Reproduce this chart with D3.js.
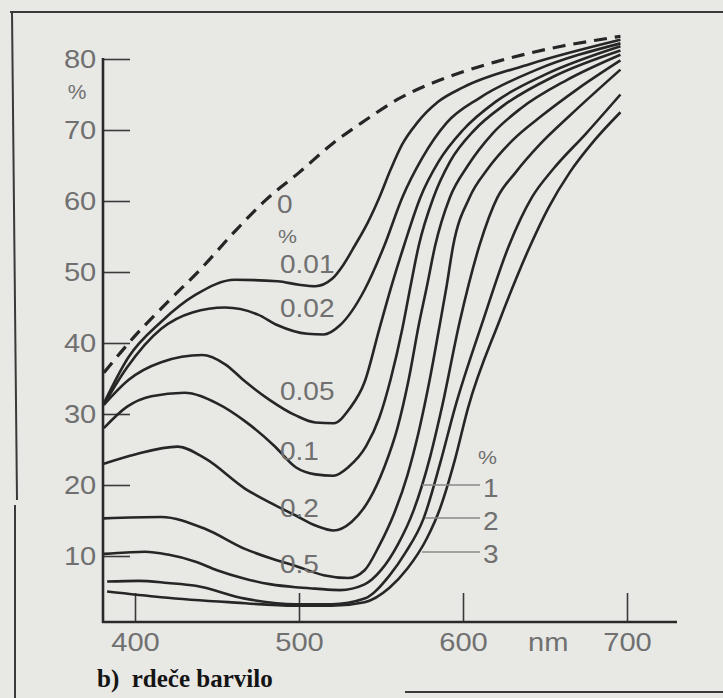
<!DOCTYPE html>
<html>
<head>
<meta charset="utf-8">
<script src="https://cdn.jsdelivr.net/npm/d3@7"></script>
<style>
  body { margin: 0; background: #e8e8e5; }
  svg { display: block; }
</style>
</head>
<body>
<svg id="chart"></svg>
<script>
// Reflectance (%) against wavelength (nm) for a red dye at several concentrations
const yTicks = [10, 20, 30, 40, 50, 60, 70, 80];
const xTicks = [400, 500, 600, 700];

const conc0 = [[381,35.8],[400,41],[420,45.8],[440,50.4],[460,55.5],[480,60.2],[500,64],[520,68],[540,71.3],[560,74.3],[580,76.5],[600,78.2],[620,79.6],[640,80.8],[660,81.8],[680,82.6],[696,83.2]];
const conc001 = [[381,31.5],[396,38],[416,43],[437,46.8],[461,48.9],[487,48.7],[500,48.2],[510,48],[520,49],[527,51],[534,53.7],[542,57],[549,60.5],[556,64.5],[563,68],[572,71],[585,74],[600,76],[641,79.3],[696,82.7]];
const conc002 = [[381,31.3],[395,36.5],[416,42],[435,44.3],[455,45],[475,44],[487,42.5],[505,41.3],[515,41.2],[525,42.5],[540,47.5],[552,53.7],[563,60.5],[575,66],[590,71],[610,74.5],[645,78.5],[696,82.2]];
const conc005 = [[381,31.3],[396,34.8],[416,37.3],[441,38.3],[455,37],[467,34.6],[482,32],[498,29.8],[510,28.8],[521,28.7],[531,30.8],[540,34.5],[549,42],[557,48.5],[564,53.7],[574,60.5],[585,65.5],[600,70],[620,74],[650,77.8],[696,81.8]];
const conc01 = [[381,28],[395,31],[410,32.5],[430,33],[450,31.5],[467,29],[485,25.5],[498,22.5],[510,21.5],[521,21.3],[530,22.5],[541,25.5],[549,29.5],[556,35],[563,42],[568,48],[573,53.7],[582,60.5],[592,65.5],[607,70],[625,73.5],[655,77.5],[696,81.2]];
const conc02 = [[381,23],[400,24.3],[426,25.4],[443,23.7],[467,19.5],[485,17.2],[498,15.7],[510,14.3],[521,13.6],[532,14.8],[543,18],[552,22.5],[560,28],[567,35],[573,42.5],[578,48],[583,53.7],[592,60.5],[603,65],[618,69.5],[635,73],[663,77],[696,80.6]];
const conc05 = [[381,15.3],[416,15.5],[443,13.8],[467,11],[485,9.5],[498,8.6],[515,7.3],[530,6.9],[540,8],[549,11.5],[558,16],[566,21.3],[573,27.5],[579,34],[585,41.5],[590,48],[594,53.7],[604,60.5],[615,64.5],[630,68.5],[648,72],[670,75.8],[696,79.8]];
const conc1 = [[381,10.3],[395,10.5],[406,10.6],[420,10.2],[437,9.2],[450,8],[467,6.8],[483,6],[498,5.6],[510,5.4],[525,5.2],[540,6],[550,8],[560,11.5],[570,16.5],[580,24],[587,30.8],[598,43],[610,53.7],[621,60.5],[632,64],[647,68],[665,72],[696,78.5]];
const conc2 = [[383,6.4],[402,6.5],[420,6.2],[437,5.8],[467,4],[498,3.2],[520,3.2],[540,4],[555,7.2],[565,10.5],[576,15.3],[586,23],[595,30.8],[612,43],[628,53.7],[642,60.5],[655,64.5],[675,69.5],[696,75]];
const conc3 = [[383,5],[416,4.2],[457,3.5],[498,3],[520,3],[540,3.5],[555,5.5],[566,8.2],[578,12.5],[586,16.7],[595,23.5],[603,30.8],[622,43],[641,53.7],[652,59],[665,64],[680,68.5],[696,72.5]];

const solidSeries = [conc001, conc002, conc005, conc01, conc02, conc05, conc1, conc2, conc3];
const leftLabels = ["0.01", "0.02", "0.05", "0.1", "0.2", "0.5"];
const rightLabels = ["1", "2", "3"];

const width = 723, height = 698;
const svg = d3.select("#chart").attr("width", width).attr("height", height);

const x = d3.scaleLinear().domain([400, 700]).range([135, 627]);
const y = d3.scaleLinear().domain([0, 80]).range([627, 59]);

const axisX = 103, axisY = 622;
const labelFont = "'Liberation Sans', Arial, sans-serif";
const labelColour = "#707070";
const stretch = "scale(1.12,1)";

// Page frame from the scanned book
const frame = svg.append("g").attr("stroke", "#3a3a3a").attr("stroke-width", 2).attr("fill", "none");
frame.append("line").attr("x1", 10).attr("y1", 12).attr("x2", 723).attr("y2", 12);
frame.append("line").attr("x1", 12).attr("y1", 12).attr("x2", 17).attr("y2", 500);
frame.append("line").attr("x1", 15).attr("y1", 505).attr("x2", 15).attr("y2", 698);
frame.append("line").attr("x1", 405).attr("y1", 692).attr("x2", 723).attr("y2", 692);

// Y axis, ticks pointing inward
const gy = svg.append("g")
  .attr("transform", `translate(${axisX},0)`)
  .call(d3.axisLeft(y).tickValues(yTicks).tickSizeInner(-27).tickSizeOuter(0).tickPadding(6));
gy.select(".domain").remove();
gy.selectAll(".tick line").attr("stroke", "#3a3a3a").attr("stroke-width", 1.6);
gy.selectAll(".tick text")
  .attr("transform", stretch)
  .attr("fill", labelColour).style("font-family", labelFont).style("font-size", "26px");

// X axis, ticks pointing inward
const gx = svg.append("g")
  .attr("transform", `translate(0,${axisY})`)
  .call(d3.axisBottom(x).tickValues(xTicks).tickSizeInner(-29).tickSizeOuter(0).tickPadding(11));
gx.select(".domain").remove();
gx.selectAll(".tick line").attr("stroke", "#3a3a3a").attr("stroke-width", 1.6);
gx.selectAll(".tick text")
  .attr("transform", stretch)
  .attr("fill", labelColour).style("font-family", labelFont).style("font-size", "26px");

svg.append("g").attr("transform", `translate(${x(652)},651)`)
  .append("text")
  .attr("transform", stretch)
  .attr("text-anchor", "middle")
  .attr("fill", labelColour).style("font-family", labelFont).style("font-size", "26px")
  .text("nm");

// Axis lines
svg.append("line").attr("x1", axisX).attr("y1", y(80) - 1).attr("x2", axisX).attr("y2", axisY + 1)
  .attr("stroke", "#2a2a2a").attr("stroke-width", 2.6);
svg.append("line").attr("x1", axisX - 1).attr("y1", axisY).attr("x2", 677).attr("y2", axisY)
  .attr("stroke", "#2a2a2a").attr("stroke-width", 2.6);

// "%" under 80
svg.append("text").attr("x", 77).attr("y", 99).attr("text-anchor", "middle")
  .attr("fill", labelColour).style("font-family", labelFont).style("font-size", "21px").text("%");

// Curves
const line = d3.line()
  .x(d => x(d[0]))
  .y(d => y(d[1]))
  .curve(d3.curveMonotoneX);

svg.append("path")
  .attr("d", line(conc0))
  .attr("fill", "none")
  .attr("stroke", "#262626")
  .attr("stroke-width", 3.2)
  .attr("stroke-dasharray", "13 8");

svg.selectAll("path.curve")
  .data(solidSeries)
  .join("path")
  .attr("class", "curve")
  .attr("d", line)
  .attr("fill", "none")
  .attr("stroke", "#262626")
  .attr("stroke-width", 2.6);

// Concentration labels
function label(tx, ty, t, size) {
  svg.append("g").attr("transform", `translate(${tx},${ty})`)
    .append("text")
    .attr("transform", stretch)
    .attr("fill", labelColour).style("font-family", labelFont).style("font-size", (size || 25) + "px")
    .text(t);
}
label(277, 213, "0");
label(278, 243, "%", 19);
const leftBaselines = [273, 317, 400, 460, 517, 573];
leftLabels.forEach((t, i) => label(280, leftBaselines[i], t));

label(478, 464, "%", 19);
const rightBaselines = [497, 530, 563];
const leaderY = [485, 518, 552];
const leaderStart = [575, 577, 575];
rightLabels.forEach((t, i) => {
  label(483, rightBaselines[i], t);
  svg.append("line")
    .attr("x1", x(leaderStart[i])).attr("y1", leaderY[i])
    .attr("x2", 480).attr("y2", leaderY[i])
    .attr("stroke", "#8a8a8a").attr("stroke-width", 1.3);
});

// Caption
svg.append("text")
  .attr("x", 97).attr("y", 687)
  .attr("fill", "#141414")
  .style("font-family", "'Liberation Serif', 'Times New Roman', serif")
  .style("font-weight", "bold")
  .style("font-size", "25px")
  .style("white-space", "pre")
  .text("b)  rdeče barvilo");
</script>
</body>
</html>
